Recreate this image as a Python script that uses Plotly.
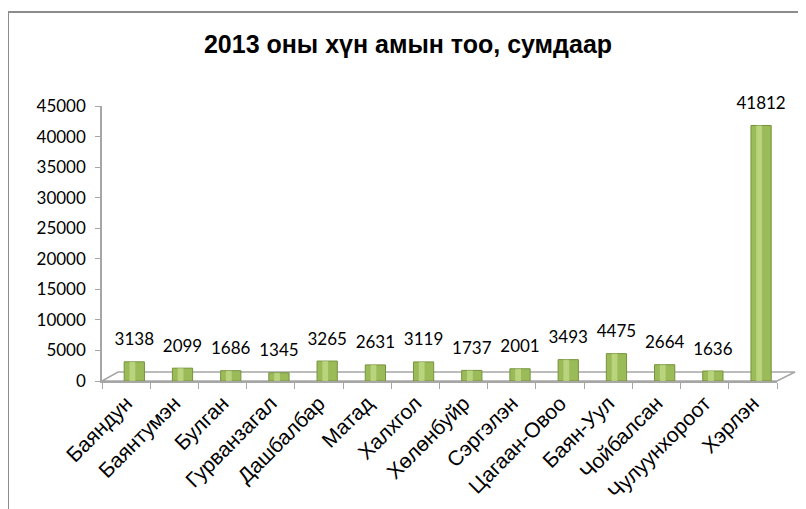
import plotly.graph_objects as go

categories = ["Баяндун", "Баянтумэн", "Булган", "Гурванзагал", "Дашбалбар", "Матад",
              "Халхгол", "Хөлөнбуйр", "Сэргэлэн", "Цагаан-Овоо", "Баян-Уул", "Чойбалсан",
              "Чулуунхороот", "Хэрлэн"]
population = [3138, 2099, 1686, 1345, 3265, 2631, 3119, 1737, 2001, 3493, 4475, 2664, 1636, 41812]
title_text = "2013 оны хүн амын тоо, сумдаар"
y_ticks = list(range(0, 45001, 5000))

# page body has an 8px margin; work in screen pixels and convert
OFF = 8
SW, SH = 806, 509
W, H = SW - OFF, SH - OFF
SL, SR, ST, SB = 102, 777, 106, 381  # plot area in screen px
L, R, T, B = SL - OFF, SW - SR, ST - OFF, SH - SB

def px(sx):
    return (sx - SL) / (SR - SL)

def py(sy):
    return (SB - sy) / (SB - ST)

BAR_SHIFT = 0.17
fig = go.Figure()
fig.add_trace(go.Bar(
    x=categories, y=population,
    width=0.42, offset=-0.21 + BAR_SHIFT,
    marker=dict(color="#9BBB59", line=dict(color="#76923C", width=1)),
    hoverinfo="x+y",
))
# highlight stripe for a cylinder feel
fig.add_trace(go.Bar(
    x=categories, y=population,
    width=0.12, offset=-0.10 + BAR_SHIFT,
    marker=dict(color="rgba(205,228,150,0.6)", line=dict(width=0)),
    hoverinfo="skip",
))
# data labels
idx = list(range(len(categories)))
fig.add_trace(go.Scatter(
    x=[i + BAR_SHIFT for i in idx], y=population, xaxis="x2",
    mode="markers+text", text=[str(v) for v in population], textposition="top center",
    marker=dict(size=18, color="rgba(0,0,0,0)"),
    textfont=dict(family="Lato, Open Sans, sans-serif", size=17, color="#000000"),
    cliponaxis=False, hoverinfo="skip",
))

shapes = [
    dict(type="line", xref="paper", yref="paper", x0=px(8), y0=py(12), x1=px(806), y1=py(12),
         line=dict(color="#8C8C8C", width=2)),
    dict(type="line", xref="paper", yref="paper", x0=px(8), y0=py(12), x1=px(8), y1=py(512),
         line=dict(color="#8C8C8C", width=2)),
    dict(type="path", xref="paper", yref="paper",
         path=f"M {px(102)},{py(381)} L {px(118)},{py(372)} L {px(795)},{py(372)} L {px(777)},{py(381)} Z",
         line=dict(color="#A6A6A6", width=1.5), fillcolor="rgba(0,0,0,0)", layer="below"),
]

fig.update_layout(
    width=W, height=H,
    margin=dict(l=L, r=R, t=T, b=B, autoexpand=False),
    paper_bgcolor="white", plot_bgcolor="white",
    barmode="overlay",
    showlegend=False,
    title=dict(text=title_text, x=(408 - OFF) / W, xref="container", y=1 - (44 - OFF) / H, yref="container",
               xanchor="center", yanchor="middle",
               font=dict(family="Liberation Sans, Arial, sans-serif", size=25, color="#000000", weight="bold")),
    shapes=shapes,
    xaxis2=dict(overlaying="x", range=[-0.5, len(categories) - 0.5], visible=False),
)
fig.update_layout(xaxis=dict(
    type="category", tickangle=-45, tickson="boundaries",
    ticks="outside", ticklen=6, tickcolor="#A6A6A6",
    showline=True, linecolor="#A6A6A6", linewidth=1.5,
    showgrid=False,
    tickfont=dict(family="Liberation Sans, Arial, sans-serif", size=21, color="#000000"),
))
fig.update_yaxes(
    range=[0, 45000], tickvals=y_ticks, ticktext=[str(v) for v in y_ticks],
    ticks="outside", ticklen=5, tickcolor="#A6A6A6",
    showline=True, linecolor="#A6A6A6", linewidth=1.5,
    showgrid=False, zeroline=False, ticklabelstandoff=6,
    tickfont=dict(family="Lato, Open Sans, sans-serif", size=17, color="#000000"),
)

fig.write_html("out.html")
